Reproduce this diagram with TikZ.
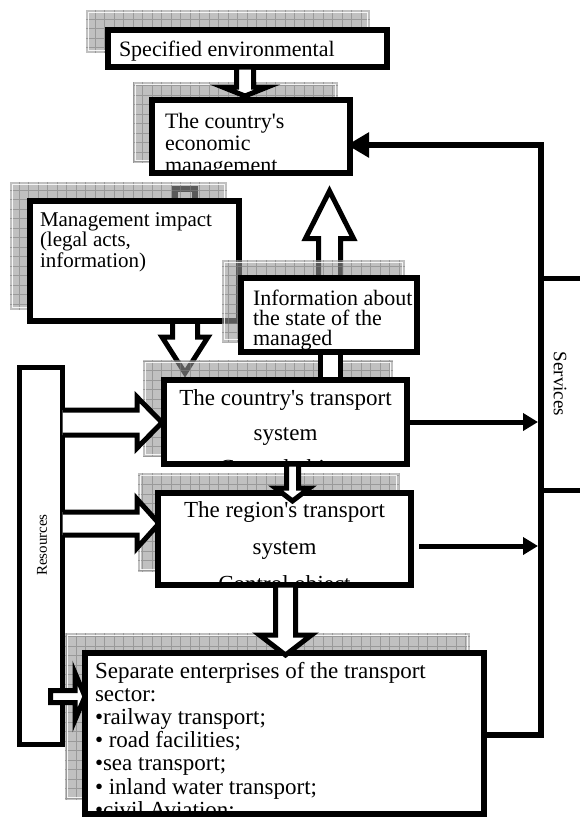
\documentclass[tikz,border=0pt]{standalone}
\usepackage{fontspec}
\setmainfont{Liberation Serif}[Ligatures=TeXOff]
\usetikzlibrary{arrows.meta,calc}

\tikzset{
  panel/.style={draw=black, fill=white, line width=6pt, inner sep=0pt, outer sep=0pt, line join=miter},
  hollow/.style={draw=black, fill=white, line width=5pt, line join=miter, miter limit=12},
  conn/.style={draw=black, line width=6pt, line join=miter},
  feed/.style={draw=black, line width=5pt, -{Triangle[length=15pt,width=17pt]}, shorten >=3pt},
  boxtext/.style={inner sep=0pt, outer sep=0pt, text=black},
  shadowtone/.style={fill=black!41, fill opacity=0.6},
  shadowgrid/.style={draw=black!50, draw opacity=0.6, line width=0.7pt, step=9.5pt},
  shadowedge/.style={draw=white, line width=0.9pt, draw opacity=0.85},
}

% patterned drop shadow: corners (x1,y1) (x2,y2), y grows downwards
\newcommand\shadowpanel[4]{%
  \fill[shadowtone] (#1,#2) rectangle (#3,#4);
  \draw[shadowgrid] (#1,#4) grid (#3,#2);
  \draw[shadowedge] ($(#1,#2)+(2.5,2.5)$) rectangle ($(#3,#4)+(-2.5,-2.5)$);
}

\begin{document}
\begin{tikzpicture}[x=1pt,y=-1pt]
\useasboundingbox (0,0) rectangle (579,817);
\fill[white] (0,0) rectangle (579,817);

% ---- specified environment
\shadowpanel{86}{10}{370}{53}
\node[panel, minimum width=279pt, minimum height=37pt] (env) at (247.5,48.5) {};
\begin{scope}
  \clip (env.north west) rectangle (env.south east);
  \node[boxtext, anchor=north west, font={\fontsize{22}{22}\selectfont}] (envtext) at (119,38)
    {\rule{0pt}{18pt}Specified environmental};
\end{scope}

% ---- economic management
\shadowpanel{133}{82}{338}{163}
\filldraw[hollow] (236.5,67) -- (236.5,87) -- (222.5,87) -- (245,96) -- (267.5,87) -- (253.5,87) -- (253.5,67) -- cycle;
\node[panel, minimum width=198pt, minimum height=73pt] (econ) at (251,136.5) {};
\begin{scope}
  \clip (econ.north west) rectangle (econ.south east);
  \node[boxtext, anchor=north west, align=left, font={\fontsize{22}{22}\selectfont}] (econtext) at (165,110)
    {\rule{0pt}{18pt}The country's\\economic\\management};
\end{scope}

% ---- arrows passing behind the next shadows
\draw[line width=6pt] (175,189) rectangle (195,203);
\filldraw[hollow] (318.5,278) -- (318.5,238.5) -- (305.5,238.5) -- (329.5,191) -- (353.5,238.5) -- (340.5,238.5) -- (340.5,278) -- cycle;
\filldraw[hollow] (172.5,321) -- (172.5,337) -- (162,337) -- (185,373) -- (208,337) -- (197.5,337) -- (197.5,321) -- cycle;

% ---- management impact
\shadowpanel{10}{182}{227}{310}
\node[panel, minimum width=209pt, minimum height=120pt] (impact) at (134.5,261) {};
\begin{scope}
  \clip (impact.north west) rectangle (impact.south east);
  \node[boxtext, anchor=north west, align=left, font={\fontsize{21}{20.5}\selectfont}] (impacttext) at (40,208)
    {\rule{0pt}{18pt}Management impact\\(legal acts,\\information)};
\end{scope}

% ---- information about the managed object
\shadowpanel{222}{260}{405}{342}
\node[panel, minimum width=176pt, minimum height=74pt] (info) at (329,315) {};
\begin{scope}
  \clip (info.north west) rectangle (info.south east);
  \node[boxtext, anchor=north west, align=left, font={\fontsize{22}{20}\selectfont}] (infotext) at (253,287)
    {\rule{0pt}{18pt}Information about\\the state of the\\managed};
\end{scope}

% ---- resources
\node[panel, line width=5pt, minimum width=43pt, minimum height=377pt] (resources) at (41,556) {};
\node[boxtext, rotate=90, font={\fontsize{15}{15}\selectfont}] (resourcestext) at (42,545) {Resources};

% ---- country's transport system
\shadowpanel{143}{360}{393}{457}
\filldraw[hollow] (320.5,352) rectangle (340.5,380);
\filldraw[hollow] (62.5,410) -- (137,410) -- (137,397) -- (162,422.5) -- (137,448) -- (137,435) -- (62.5,435);
\node[panel, minimum width=243pt, minimum height=84pt] (country) at (285.5,422) {};
\begin{scope}
  \clip (country.north west) rectangle (country.south east);
  \node[boxtext, anchor=north, align=center, font={\fontsize{23}{35}\selectfont}] (countrytext) at (285.5,387)
    {\rule{0pt}{18pt}The country's transport\\system\\Control object};
\end{scope}

% ---- region's transport system
\shadowpanel{138}{473}{399}{572}
\filldraw[hollow] (62.5,512) -- (137,512) -- (137,499) -- (159,523.5) -- (137,548) -- (137,535) -- (62.5,535);
\node[panel, minimum width=253pt, minimum height=92pt] (region) at (284.5,539) {};
\begin{scope}
  \clip (region.north west) rectangle (region.south east);
  \node[boxtext, anchor=north, align=center, font={\fontsize{23}{37}\selectfont}] (regiontext) at (284.5,499)
    {\rule{0pt}{18pt}The region's transport\\system\\Control object};
\end{scope}
\filldraw[hollow] (286.5,464) -- (286.5,488) -- (275.5,488) -- (292.5,501) -- (309.5,488) -- (298.5,488) -- (298.5,464) -- cycle;

% ---- separate enterprises
\shadowpanel{65}{633}{470}{800}
\filldraw[hollow] (50.5,690.5) -- (75,690.5) -- (75,673) -- (85,696.5) -- (75,720) -- (75,702.5) -- (50.5,702.5) -- cycle;
\node[panel, minimum width=399pt, minimum height=161pt] (enterprises) at (284.5,733.5) {};
\begin{scope}
  \clip (enterprises.north west) rectangle (enterprises.south east);
  \node[boxtext, anchor=north west, align=left, font={\fontsize{23}{23.2}\selectfont}] (enterprisestext) at (95,660)
    {\rule{0pt}{18pt}Separate enterprises of the transport\\sector:\\•railway transport;\\• road facilities;\\•sea transport;\\• inland water transport;\\•civil Aviation;};
\end{scope}
\filldraw[hollow] (275.5,585) -- (275.5,635) -- (259.5,635) -- (285.5,655) -- (311.5,635) -- (295.5,635) -- (295.5,585) -- cycle;

% ---- services and feedback connectors
\node[draw=black, line width=5pt, inner sep=0pt, minimum width=97pt, minimum height=212pt] (services) at (589.5,384) {};
\node[boxtext, rotate=-90, font={\fontsize{19}{19}\selectfont}] (servicestext) at (560,384) {Services};
\coordinate (svtop) at (541,145);
\coordinate (svbot) at (541,735);
\draw[conn, -{Triangle[length=22pt,width=24pt]}, shorten >=-3pt]
  (enterprises.east |- svbot) -- (svbot) -- (svtop) -- (econ.east |- svtop);
\draw[feed] (country.east) -- (country.east -| svtop);
\coordinate (rgout) at (419,546);
\draw[feed] (rgout) -- (rgout -| svtop);
\end{tikzpicture}
\end{document}
